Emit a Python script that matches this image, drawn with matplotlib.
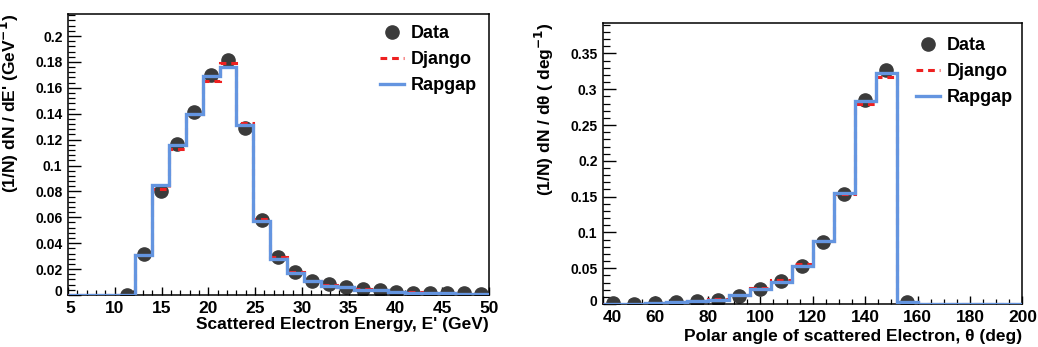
import numpy as np
import matplotlib
matplotlib.use("Agg")
import matplotlib.pyplot as plt
import matplotlib.transforms as mtransforms
from matplotlib.ticker import MultipleLocator, FuncFormatter
from matplotlib.lines import Line2D

plt.rcParams['font.family'] = ['Liberation Sans', 'DejaVu Sans']
plt.rcParams['font.weight'] = 'bold'
plt.rcParams['mathtext.default'] = 'bf'

# ---------------- Left panel: scattered electron energy ----------------
e_edges = np.linspace(5, 50, 26)          # 25 bins of 1.8 GeV
e_rapgap = [0, 0, 0, 0, 0.031, 0.085, 0.116, 0.140, 0.169, 0.176, 0.131, 0.057,
            0.028, 0.017, 0.0105, 0.0073, 0.0058, 0.0042, 0.0035, 0.0025,
            0.0019, 0.0015, 0.0012, 0.0010, 0.0008]
e_django = [0, 0, 0, 0, 0.031, 0.082, 0.113, 0.140, 0.165, 0.179, 0.133, 0.0585,
            0.0295, 0.0175, 0.011, 0.0078, 0.006, 0.0045, 0.0036, 0.0026,
            0.0020, 0.0016, 0.0013, 0.0010, 0.0008]
e_data_x = [11.3, 13.1, 14.9, 16.7, 18.5, 20.3, 22.1, 23.9, 25.7, 27.5, 29.3,
            31.1, 32.9, 34.7, 36.5, 38.3, 40.1, 41.9, 43.7, 45.5, 47.3, 49.1]
e_data_y = [0.0, 0.0315, 0.080, 0.1165, 0.1415, 0.170, 0.1815, 0.129, 0.058,
            0.029, 0.018, 0.011, 0.0082, 0.0064, 0.0045, 0.0039, 0.0026,
            0.0019, 0.0018, 0.0015, 0.0013, 0.0010]

# ---------------- Right panel: polar angle ----------------
t_edges = np.linspace(40, 200, 21)        # 20 bins of 8 deg
t_rapgap = [0.0, 0.0, 0.0015, 0.0025, 0.004, 0.0055, 0.012, 0.021, 0.031, 0.053,
            0.088, 0.155, 0.284, 0.323, 0.003, 0, 0, 0, 0, 0]
t_django = [0.0, 0.0005, 0.0015, 0.003, 0.0045, 0.0065, 0.013, 0.023, 0.034, 0.056,
            0.088, 0.154, 0.279, 0.317, 0.003, 0, 0, 0, 0, 0]
t_data_x = [44, 52, 60, 68, 76, 84, 92, 100, 108, 116, 124, 132, 140, 148, 156]
t_data_y = [0.001, 0.0, 0.001, 0.003, 0.004, 0.005, 0.011, 0.021, 0.032, 0.053,
            0.087, 0.154, 0.285, 0.327, 0.003]

BLUE = '#6495e0'
RED = '#ee2020'
DOT = '#3b3b3b'

W, H = 1038, 347
fig = plt.figure(figsize=(W / 100, H / 100), dpi=100)
ax1 = fig.add_axes([68 / W, 1 - 295 / H, (489 - 68) / W, (295 - 14) / H])
ax2 = fig.add_axes([603 / W, 1 - 304 / H, (1022.5 - 603) / W, (304 - 22.7) / H])


def draw(ax, edges, rap, dj, dx, dy):
    ax.plot(dx, dy, 'o', color=DOT, ms=9.5, zorder=2, label='Data')
    ax.stairs(dj, edges, color=RED, lw=2.2, ls=(0, (2.2, 1.6)), zorder=3,
              baseline=None, label='Django')
    ax.stairs(rap, edges, color=BLUE, lw=2.4, zorder=4, baseline=None,
              label='Rapgap')


def style(ax):
    for s in ax.spines.values():
        s.set_linewidth(1.1)
    ax.tick_params(axis='both', which='both', direction='in', top=False,
                   right=False)
    ax.tick_params(axis='y', which='major', length=9, width=1.0, labelsize=10,
                   pad=4)
    ax.tick_params(axis='y', which='minor', length=5, width=0.9)
    ax.tick_params(axis='x', which='major', length=6, width=1.0, labelsize=12.5,
                   pad=4)
    ax.tick_params(axis='x', which='minor', length=3.5, width=0.9)
    ax.yaxis.set_major_formatter(FuncFormatter(lambda v, p: '%g' % round(v, 4)))


def legend(ax, x, y):
    handles = [Line2D([], [], ls='none', marker='o', color=DOT, ms=9.5),
               Line2D([], [], color=RED, lw=2.2, ls=(0, (2.2, 1.6))),
               Line2D([], [], color=BLUE, lw=2.4)]
    ax.legend(handles, ['Data', 'Django', 'Rapgap'], loc='upper left',
              bbox_to_anchor=(x, y), frameon=False,
              prop={'size': 13, 'weight': 'bold'}, handlelength=1.3,
              handletextpad=0.4, labelspacing=0.5, borderaxespad=0)


draw(ax1, e_edges, e_rapgap, e_django, e_data_x, e_data_y)
ax1.set_xlim(5, 50)
ax1.set_ylim(0, 0.217)
ax1.xaxis.set_major_locator(MultipleLocator(5))
ax1.xaxis.set_minor_locator(MultipleLocator(1))
ax1.yaxis.set_major_locator(MultipleLocator(0.02))
ax1.yaxis.set_minor_locator(MultipleLocator(0.004))
style(ax1)
ax1.set_xlabel("Scattered Electron Energy, E' (GeV)", fontsize=12.5,
               fontweight='bold', loc='right', labelpad=1)
ax1.set_ylabel("(1/N) dN / dE' (GeV$^{-1}$)", fontsize=12.5,
               fontweight='bold', loc='top', labelpad=10)
legend(ax1, 0.725, 0.985)

draw(ax2, t_edges, t_rapgap, t_django, t_data_x, t_data_y)
ax2.set_xlim(40, 200)
ax2.set_ylim(0, 0.393)
ax2.xaxis.set_major_locator(MultipleLocator(20))
ax2.xaxis.set_minor_locator(MultipleLocator(5))
ax2.yaxis.set_major_locator(MultipleLocator(0.05))
ax2.yaxis.set_minor_locator(MultipleLocator(0.01))
style(ax2)
ax2.set_xlabel("Polar angle of scattered Electron, θ (deg)", fontsize=12.5,
               fontweight='bold', loc='right', labelpad=3)
ax2.set_ylabel("(1/N) dN / dθ ( deg$^{-1}$)", fontsize=12.5,
               fontweight='bold', loc='top', labelpad=10)
legend(ax2, 0.73, 0.975)

# nudge the corner tick labels (first x label right, y "0" up) as in the reference
fig.canvas.draw()
for ax, dx in ((ax1, 2), (ax2, 9)):
    x0 = ax.get_xlim()[0]
    for t in ax.xaxis.get_major_ticks():
        if abs(t.get_loc() - x0) < 1e-9:
            off = mtransforms.ScaledTranslation(dx / 100, 0, fig.dpi_scale_trans)
            t.label1.set_transform(t.label1.get_transform() + off)
    for t in ax.yaxis.get_major_ticks():
        if abs(t.get_loc()) < 1e-12:
            off = mtransforms.ScaledTranslation(0, 4 / 100, fig.dpi_scale_trans)
            t.label1.set_transform(t.label1.get_transform() + off)

fig.savefig('out.png', dpi=100)
